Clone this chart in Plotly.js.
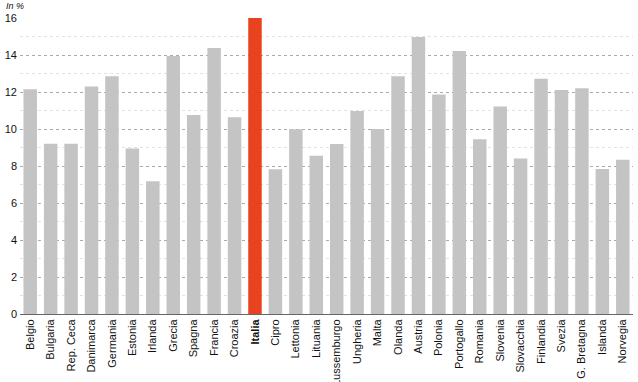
<!DOCTYPE html>
<html><head><meta charset="utf-8">
<script src="https://cdn.plot.ly/plotly-3.0.1.min.js"></script>
<style>html,body{margin:0;padding:0;background:#fff}</style>
</head><body>
<div id="chart" style="width:638px;height:382px"></div>
<script>
const countries = ["Belgio","Bulgaria","Rep. Ceca","Danimarca","Germania","Estonia","Irlanda","Grecia","Spagna","Francia","Croazia","Italia","Cipro","Lettonia","Lituania","Lussemburgo","Ungheria","Malta","Olanda","Austria","Polonia","Portogallo","Romania","Slovenia","Slovacchia","Finlandia","Svezia","G. Bretagna","Islanda","Norvegia"];
const values = [12.15,9.2,9.2,12.3,12.85,8.94,7.17,13.95,10.76,14.38,10.63,16.0,7.82,9.98,8.56,9.19,10.97,10.0,12.85,14.97,11.87,14.22,9.44,11.21,8.4,12.72,12.11,12.2,7.84,8.34];
const highlight = "Italia";
const yTicks = [0,2,4,6,8,10,12,14,16];

const colors = countries.map(c => c === highlight ? "#e8431e" : "#c4c4c4");
const tickText = countries.map(c => c === highlight ? "<b>" + c + "</b>" : c);

const font = "'Liberation Sans Narrow', 'Arial Narrow', Arial, sans-serif";

Plotly.newPlot("chart", [{
  type: "bar",
  x: countries,
  y: values,
  marker: {color: colors},
  hoverinfo: "x+y"
}], {
  width: 638, height: 382,
  margin: {l: 20, r: 5, t: 18, b: 68},
  paper_bgcolor: "#fff", plot_bgcolor: "#fff",
  bargap: 0.34,
  showlegend: false,
  font: {family: font, size: 11, color: "#111"},
  xaxis: {
    tickmode: "array", tickvals: countries, ticktext: tickText,
    tickangle: -90, ticks: "", showgrid: false,
    showline: true, linecolor: "#666", linewidth: 1,
    tickfont: {family: font, size: 11, color: "#111"},
    fixedrange: true
  },
  yaxis: {
    range: [0, 16], tickmode: "array", tickvals: yTicks,
    showgrid: true, gridcolor: "#aaaaaa", griddash: "dot", gridwidth: 1,
    minor: {dtick: 1, showgrid: true, gridcolor: "#e2e2e2", griddash: "dot", gridwidth: 1},
    zeroline: false, showline: false, ticks: "",
    tickfont: {family: font, size: 11, color: "#111"},
    ticklabelstandoff: 2,
    fixedrange: true
  },
  annotations: [{
    xref: "paper", yref: "paper", x: -0.025, y: 1, xanchor: "left", yanchor: "bottom",
    yshift: 6, text: "<i>In %</i>", showarrow: false, borderpad: 0,
    font: {family: font, size: 9, color: "#111"}
  }]
}, {displayModeBar: false, staticPlot: true});
</script>
</body></html>
